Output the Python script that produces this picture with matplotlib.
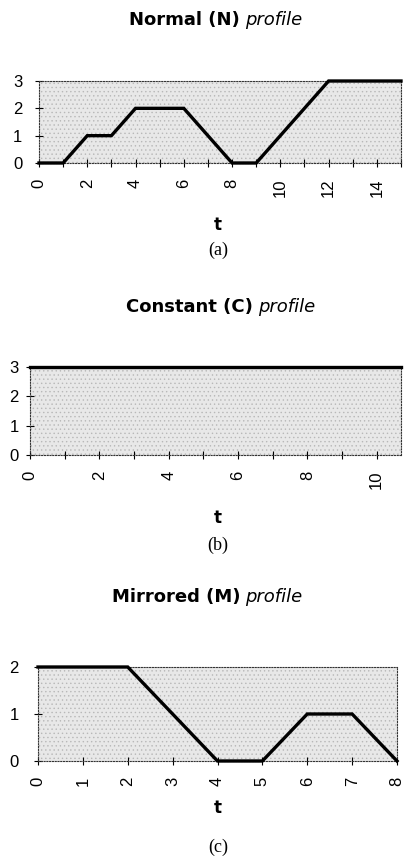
import numpy as np
import matplotlib.pyplot as plt
from matplotlib.patches import Rectangle

# profile data (t, value)
t_n = [0, 1, 2, 3, 4, 5, 6, 7, 8, 9, 10, 11, 12, 13, 14, 15]
v_n = [0, 0, 1, 1, 2, 2, 2, 1, 0, 0, 1, 2, 3, 3, 3, 3]

t_c = [0, 1, 2, 3, 4, 5, 6, 7, 8, 9, 10, 10.7]
v_c = [3, 3, 3, 3, 3, 3, 3, 3, 3, 3, 3, 3]

t_m = [0, 1, 2, 3, 4, 5, 6, 7, 8]
v_m = [2, 2, 2, 1, 0, 0, 1, 1, 0]

W, H = 404, 857
plt.rcParams['hatch.linewidth'] = 0.5
fig = plt.figure(figsize=(W / 100, H / 100), dpi=100)


def px(x0, y0, x1, y1):
    return [x0 / W, 1 - y1 / H, (x1 - x0) / W, (y1 - y0) / H]


def panel(rect, t, v, xmax, ymax, xlab_step, ytick_pad, title_bold, title_x, title_y, t_y, letter, letter_y):
    ax = fig.add_axes(rect)
    ax.set_facecolor('#e8e8e8')
    # stippled background
    ax.add_patch(Rectangle((0, 0), 1, 1, transform=ax.transAxes,
                           facecolor='none', edgecolor='#b8b8b8', lw=0,
                           hatch='....', zorder=0))
    ax.plot(t, v, color='black', lw=2.4, clip_on=False, zorder=5,
            solid_joinstyle='miter')
    ax.set_xlim(0, xmax)
    ax.set_ylim(0, ymax)
    ax.set_xticks(np.arange(0, int(xmax) + 1, 1), minor=True)
    ax.set_xticks(np.arange(0, int(xmax) + 1, xlab_step))
    ax.set_yticks(np.arange(0, ymax + 1, 1))
    for s in ax.spines.values():
        s.set_linestyle((0, (1, 1.5)))
        s.set_linewidth(0.8)
        s.set_color('#333333')
    ax.tick_params(which='both', direction='inout', length=6, width=0.8,
                   labelsize=12)
    ax.tick_params(axis='x', which='both', labelrotation=90, pad=8)
    ax.tick_params(axis='y', pad=ytick_pad)
    for lb in ax.get_xticklabels() + ax.get_yticklabels():
        lb.set_fontfamily('Liberation Sans')
    fig.text(title_x / W, 1 - title_y / H, title_bold, ha='right', va='center',
             fontsize=13, fontweight='bold', family='DejaVu Sans')
    fig.text((title_x + 5) / W, 1 - title_y / H, 'profile', ha='left', va='center',
             fontsize=13, style='italic', family='DejaVu Sans')
    fig.text(218 / W, 1 - t_y / H, 't', ha='center', va='center',
             fontsize=12, fontweight='bold', family='DejaVu Sans')
    fig.text(218 / W, 1 - letter_y / H, letter, ha='center', va='center',
             fontsize=13, family='Liberation Serif')
    return ax


panel(px(39, 81, 401, 163), t_n, v_n, 15, 3, 2, 9,
      'Normal (N)', 240, 20, 225, '(a)', 250)
panel(px(30, 367, 401, 455), t_c, v_c, 10.7, 3, 2, 5,
      'Constant (C)', 253, 307, 518, '(b)', 545)
panel(px(38, 667, 397, 761), t_m, v_m, 8, 2, 1, 11,
      'Mirrored (M)', 240, 597, 808, '(c)', 847)

fig.savefig('out.png', dpi=100)
